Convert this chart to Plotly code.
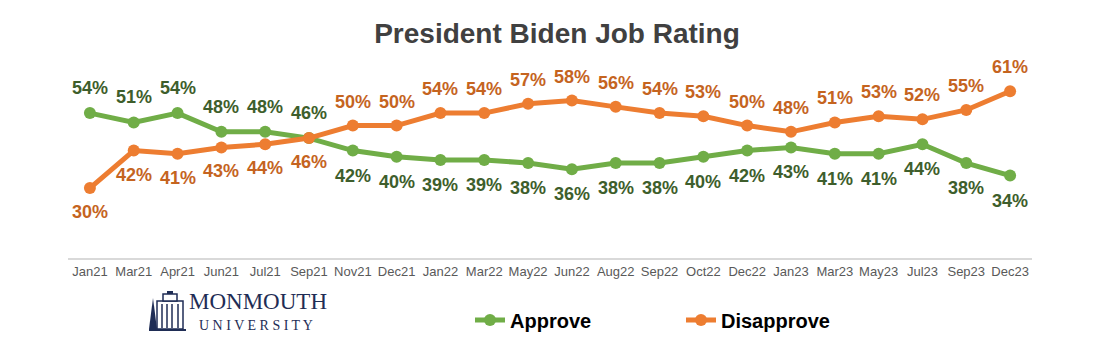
import plotly.graph_objects as go

categories = ["Jan21", "Mar21", "Apr21", "Jun21", "Jul21", "Sep21", "Nov21", "Dec21",
              "Jan22", "Mar22", "May22", "Jun22", "Aug22", "Sep22", "Oct22", "Dec22",
              "Jan23", "Mar23", "May23", "Jul23", "Sep23", "Dec23"]
approve = [54, 51, 54, 48, 48, 46, 42, 40, 39, 39, 38, 36, 38, 38, 40, 42, 43, 41, 41, 44, 38, 34]
disapprove = [30, 42, 41, 43, 44, 46, 50, 50, 54, 54, 57, 58, 56, 54, 53, 50, 48, 51, 53, 52, 55, 61]

# label side: +1 above, -1 below
approve_side = [1] * 6 + [-1] * 16
disapprove_side = [-1] * 6 + [1] * 16

GREEN = "#70AD47"
ORANGE = "#ED7D31"
GREEN_TXT = "#3E5E2C"
ORANGE_TXT = "#C5641F"
FONT = "Liberation Sans, Arial, sans-serif"
NAVY = "#1F2D55"

# page body has an 8px margin: figure origin sits at screen (8, 8)
OFF = 8
L, R, T, B = 68, 1032, 60, 258  # desired plot area in screen pixels

fig = go.Figure()
fig.add_trace(go.Scatter(
    x=categories, y=approve, name="Approve", mode="lines+markers",
    line=dict(color=GREEN, width=5), marker=dict(color=GREEN, size=12),
    hoverinfo="skip"))
fig.add_trace(go.Scatter(
    x=categories, y=disapprove, name="Disapprove", mode="lines+markers",
    line=dict(color=ORANGE, width=5), marker=dict(color=ORANGE, size=12),
    hoverinfo="skip"))

annotations = []
for cat, v, s in zip(categories, approve, approve_side):
    annotations.append(dict(x=cat, y=v, text=f"{v}%", showarrow=False, yshift=25 * s,
                            font=dict(family=FONT, size=18, color=GREEN_TXT, weight="bold")))
for cat, v, s in zip(categories, disapprove, disapprove_side):
    annotations.append(dict(x=cat, y=v, text=f"{v}%", showarrow=False, yshift=24 * s,
                            font=dict(family=FONT, size=18, color=ORANGE_TXT, weight="bold")))


def px(xp):
    return (xp - L) / (R - L)


def py(yp):
    return (B - yp) / (B - T)


# Logo text
annotations.append(dict(xref="paper", yref="paper", x=px(187), y=py(301),
                        xanchor="left", yanchor="middle", showarrow=False, text="MONMOUTH",
                        font=dict(family="Liberation Serif, DejaVu Serif, serif", size=23, color=NAVY)))
annotations.append(dict(xref="paper", yref="paper", x=px(197), y=py(325),
                        xanchor="left", yanchor="middle", showarrow=False,
                        text="U N I V E R S I T Y",
                        font=dict(family="Liberation Serif, DejaVu Serif, serif", size=14, color=NAVY)))

shapes = []
# simple building icon for the logo (decorative)
shapes.append(dict(type="path", xref="paper", yref="paper",
                   path=f"M {px(149)} {py(329)} L {px(153)} {py(298)} L {px(157)} {py(329)} Z",
                   fillcolor=NAVY, line=dict(width=0)))
shapes.append(dict(type="rect", xref="paper", yref="paper", x0=px(157), x1=px(183), y0=py(329), y1=py(301),
                   fillcolor="white", line=dict(color=NAVY, width=1.5)))
shapes.append(dict(type="rect", xref="paper", yref="paper", x0=px(163), x1=px(177), y0=py(301), y1=py(294),
                   fillcolor="white", line=dict(color=NAVY, width=1.5)))
shapes.append(dict(type="rect", xref="paper", yref="paper", x0=px(167), x1=px(173), y0=py(294), y1=py(291),
                   fillcolor=NAVY, line=dict(width=0)))
for xx in [162, 167, 172, 178]:
    shapes.append(dict(type="line", xref="paper", yref="paper", x0=px(xx), x1=px(xx), y0=py(328), y1=py(304),
                       line=dict(color=NAVY, width=1.5)))
shapes.append(dict(type="line", xref="paper", yref="paper", x0=px(149), x1=px(186), y0=py(330), y1=py(330),
                   line=dict(color=NAVY, width=2)))

fig.update_layout(
    width=1099, height=360,
    margin=dict(l=L - OFF, r=1099 - (R - OFF), t=T - OFF, b=360 - (B - OFF)),
    paper_bgcolor="white", plot_bgcolor="white",
    title=dict(text="President Biden Job Rating", x=(557 - OFF) / 1099, xref="container", xanchor="center",
               y=1 - (33 - OFF) / 360, yanchor="middle",
               font=dict(family=FONT, size=28, color="#404040", weight="bold")),
    xaxis=dict(type="category", range=[-0.5, 21.5], showgrid=False, showline=True,
               linecolor="#D9D9D9", linewidth=2, ticks="", zeroline=False,
               tickfont=dict(family=FONT, size=13, color="#595959")),
    yaxis=dict(range=[7.6, 71], visible=False, showgrid=False, zeroline=False),
    showlegend=True,
    legend=dict(orientation="h", x=(470 - OFF) / 1099, xref="container", xanchor="left",
                y=1 - (320 - OFF) / 360, yref="container", yanchor="middle",
                font=dict(family=FONT, size=20, color="#000000", weight="bold"),
                entrywidth=166, entrywidthmode="pixels", itemclick=False),
    annotations=annotations, shapes=shapes,
)

fig.write_html("out.html")
